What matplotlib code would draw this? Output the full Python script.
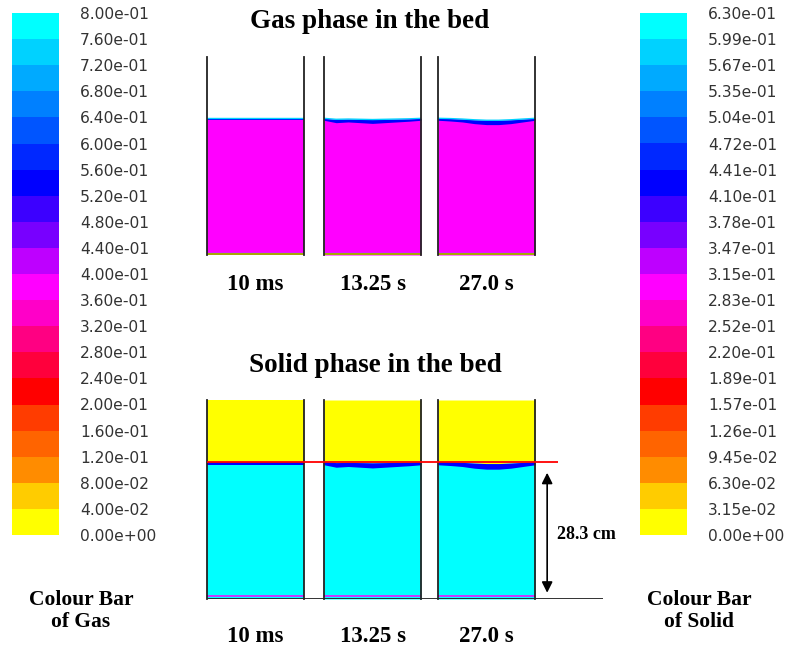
import matplotlib
matplotlib.use("Agg")
import matplotlib.pyplot as plt
import matplotlib.cm as cm
from matplotlib.colors import ListedColormap, BoundaryNorm
import numpy as np

# ---- contour bands (bottom to top) ----
band_colors = [
    "#ffff00", "#ffcc00", "#ff8c00", "#ff6400", "#ff3c00",
    "#ff0000", "#ff003c", "#ff0082", "#ff00c8", "#ff00ff",
    "#be00ff", "#7800ff", "#3c00ff", "#0000ff", "#0028ff",
    "#0055ff", "#0080ff", "#00aaff", "#00d2ff", "#00ffff",
]

gas_levels = [0.00, 0.04, 0.08, 0.12, 0.16, 0.20, 0.24, 0.28, 0.32, 0.36, 0.40,
              0.44, 0.48, 0.52, 0.56, 0.60, 0.64, 0.68, 0.72, 0.76, 0.80]
solid_levels = [0.0, 0.0315, 0.063, 0.0945, 0.126, 0.157, 0.189, 0.220, 0.252,
                0.283, 0.315, 0.347, 0.378, 0.410, 0.441, 0.472, 0.504, 0.535,
                0.567, 0.599, 0.630]

# ---- bed geometry (cm) ----
times = ["10 ms", "13.25 s", "27.0 s"]
bed_height = 28.3
column_height = 41.0
column_width = 20.0
profile_x = [0, 2.5, 5, 7.5, 10, 12.5, 15, 17.5, 20]
surface_dip = [
    [0.0, 0.0, 0.0, 0.0, 0.0, 0.0, 0.0, 0.0, 0.0],
    [0.0, 0.2, 0.15, 0.2, 0.25, 0.2, 0.15, 0.1, 0.0],
    [0.0, 0.05, 0.15, 0.3, 0.4, 0.4, 0.3, 0.15, 0.0],
]
layer_thickness = [
    [0.35, 0.35, 0.35, 0.35, 0.35, 0.35, 0.35, 0.35, 0.35],
    [0.4, 0.7, 0.6, 0.7, 0.8, 0.7, 0.6, 0.5, 0.4],
    [0.4, 0.5, 0.6, 0.8, 0.9, 0.9, 0.8, 0.6, 0.4],
]

# ---- volume fractions ----
gas_bed, gas_layer, gas_skin, gas_free = 0.38, 0.54, 0.74, 1.0
solid_bed, solid_layer, solid_free, solid_base = 0.62, 0.43, 0.0, 0.30

W, H = 790, 650
fig = plt.figure(figsize=(W / 100, H / 100), dpi=100)
fig.patch.set_facecolor("white")

SERIF = dict(family="Liberation Serif", weight="bold", color="black")


def px_axes(left, top, width, height):
    return fig.add_axes([left / W, 1 - (top + height) / H, width / W, height / H])


def fig_text(x, y, s, **kw):
    fig.text(x / W, 1 - y / H, s, ha="center", va="center", **kw)


cmap = ListedColormap(band_colors)
cmap.set_over("white")
cmap.set_under("white")
gas_norm = BoundaryNorm(gas_levels, cmap.N)
solid_norm = BoundaryNorm(solid_levels, cmap.N)


def colour(norm, value):
    return cmap(norm(value))


# ---- colour bars ----
for left, levels, norm in [(12, gas_levels, gas_norm), (640, solid_levels, solid_norm)]:
    cax = px_axes(left, 13, 47, 522)
    cb = fig.colorbar(cm.ScalarMappable(norm=norm, cmap=cmap), cax=cax,
                      ticks=levels, spacing="uniform")
    cb.outline.set_visible(False)
    cb.set_ticklabels(["%.2e" % v for v in levels])
    cax.tick_params(length=0, pad=15, labelsize=11.2, labelcolor="#333333")

fig_text(81, 611, "Colour Bar\nof Gas", fontsize=15.5, linespacing=1.15, **SERIF)
fig_text(699, 611, "Colour Bar\nof Solid", fontsize=15.5, linespacing=1.15, **SERIF)

# ---- columns ----
panel_left = [207, 324, 438]
panel_w = 97
x = np.array(profile_x)


def setup(ax):
    ax.set_xlim(0, column_width)
    ax.set_ylim(0, column_height)
    ax.set_xticks([])
    ax.set_yticks([])
    ax.patch.set_alpha(0)
    for side in ("top", "bottom"):
        ax.spines[side].set_visible(False)
    for side in ("left", "right"):
        ax.spines[side].set_color("#222222")
        ax.spines[side].set_linewidth(1.3)


for i in range(3):
    top = bed_height - np.array(surface_dip[i])
    low = top - np.array(layer_thickness[i])

    # gas phase
    ax = px_axes(panel_left[i], 57, panel_w, 198)
    setup(ax)
    ax.fill_between(x, top, column_height, color=colour(gas_norm, gas_free), lw=0)
    ax.fill_between(x, 0, top, color=colour(gas_norm, gas_bed), lw=0)
    ax.fill_between(x, low, top, color=colour(gas_norm, gas_layer), lw=0)
    ax.plot(x, top, color=colour(gas_norm, gas_skin), lw=1.0)
    ax.axhline(0.45, color=colour(gas_norm, gas_skin), lw=0.9)
    ax.axhline(0.12, color="#a8a800", lw=1.4)
    fig_text(panel_left[i] + panel_w / 2, 285, times[i], fontsize=16.5, **SERIF)

    # solid phase
    ax = px_axes(panel_left[i], 400, panel_w, 199)
    setup(ax)
    ax.fill_between(x, top, column_height, color=colour(solid_norm, solid_free), lw=0)
    ax.fill_between(x, 0, top, color=colour(solid_norm, solid_bed), lw=0)
    ax.fill_between(x, low - 0.25, top, color=colour(solid_norm, solid_layer), lw=0)
    ax.axhline(0.55, color=colour(solid_norm, solid_base), lw=1.1)
    fig_text(panel_left[i] + panel_w / 2, 637, times[i], fontsize=16.5, **SERIF)

# ---- bed height marker ----
ov = px_axes(207, 400, 396, 199)
ov.set_xlim(0, 1)
ov.set_ylim(0, column_height)
ov.axis("off")
ov.plot([0, 0.886], [bed_height, bed_height], color="red", lw=1.3, solid_capstyle="butt")
ov.plot([0, 1], [0, 0], color="#222222", lw=1.3, solid_capstyle="butt")
ov.annotate("", xy=(0.859, 0), xytext=(0.859, bed_height),
            arrowprops=dict(arrowstyle="<|-|>", color="black", lw=1.2,
                            shrinkA=8, shrinkB=4.5, mutation_scale=16))
ov.text(0.885, bed_height * 0.47, "%.1f cm" % bed_height, ha="left", va="center",
        fontsize=13, **SERIF)

fig_text(370, 22, "Gas phase in the bed", fontsize=19.5, **SERIF)
fig_text(375, 366, "Solid phase in the bed", fontsize=19.5, **SERIF)

fig.savefig("out.png", dpi=100, facecolor="white")
